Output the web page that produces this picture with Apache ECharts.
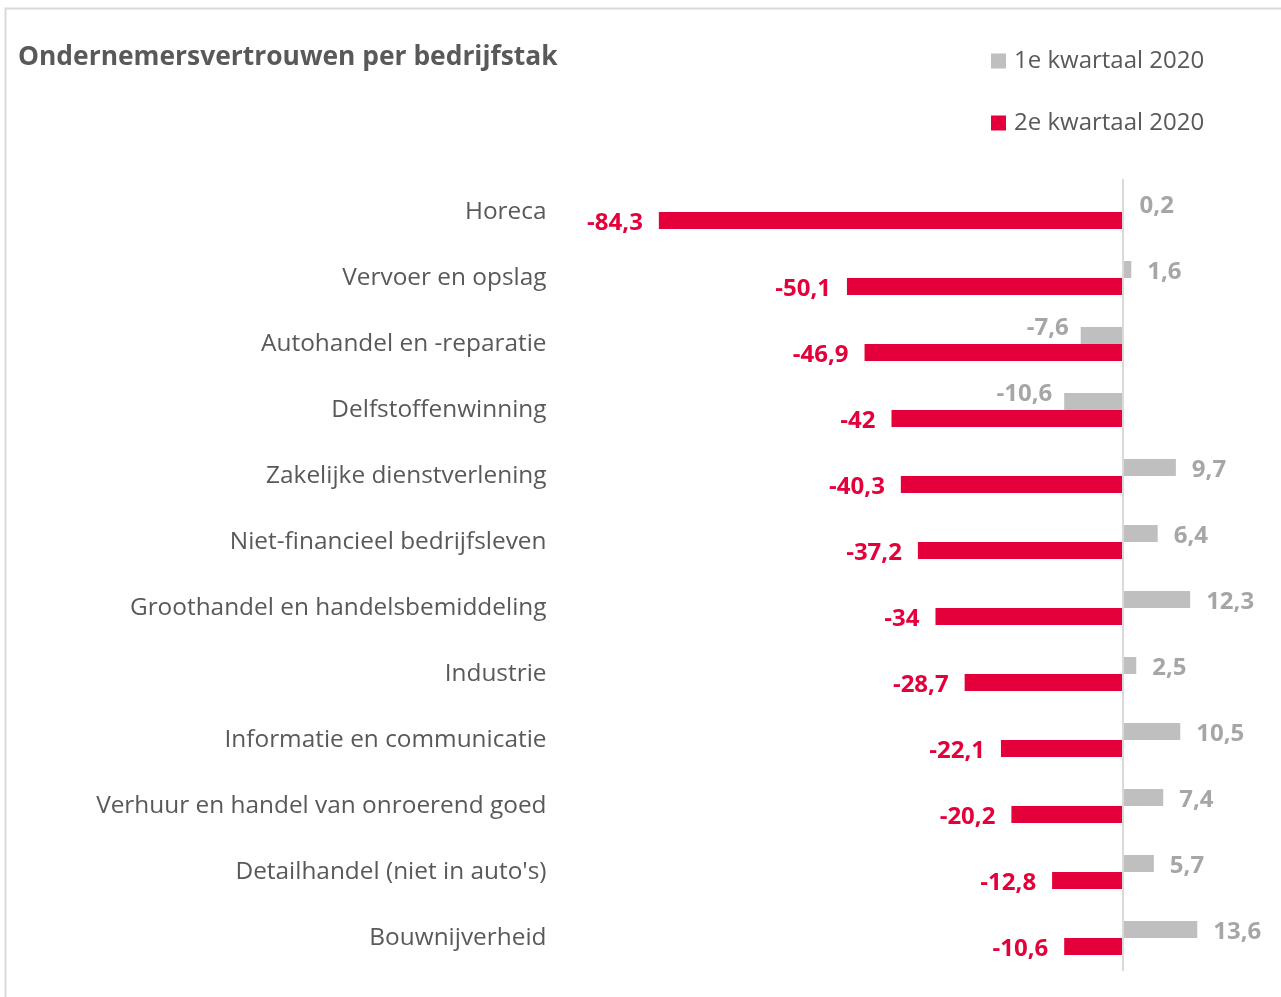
<!DOCTYPE html>
<html>
<head>
<meta charset="utf-8">
<title>Ondernemersvertrouwen per bedrijfstak</title>
<script src="https://cdn.jsdelivr.net/npm/echarts@6/dist/echarts.min.js"></script>
<style>
  html, body { margin: 0; padding: 0; background: #fff; }
  #chart { width: 1281px; height: 997px; }
</style>
</head>
<body>
<div id="chart"></div>
<script>
// bedrijfstakken, van boven naar beneden
const categories = [
  "Horeca",
  "Vervoer en opslag",
  "Autohandel en -reparatie",
  "Delfstoffenwinning",
  "Zakelijke dienstverlening",
  "Niet-financieel bedrijfsleven",
  "Groothandel en handelsbemiddeling",
  "Industrie",
  "Informatie en communicatie",
  "Verhuur en handel van onroerend goed",
  "Detailhandel (niet in auto's)",
  "Bouwnijverheid"
];
const seriesNames = ["1e kwartaal 2020", "2e kwartaal 2020"];
const q1 = [0.2, 1.6, -7.6, -10.6, 9.7, 6.4, 12.3, 2.5, 10.5, 7.4, 5.7, 13.6];
const q2 = [-84.3, -50.1, -46.9, -42, -40.3, -37.2, -34, -28.7, -22.1, -20.2, -12.8, -10.6];

const GREY = "#bfbfbf";
const RED = "#e4003a";
const TEXT = "#595959";
const FONT = "'Open Sans', 'Noto Sans', sans-serif";

function fmt(v) {
  return String(v).replace(".", ",");
}

const labelBase = {
  show: true,
  fontFamily: FONT,
  fontSize: 24,
  fontWeight: "bold",
  formatter: p => fmt(p.value)
};

// grijze labels: rechts bij positief, links en iets hoger bij negatief
const q1Data = q1.map(v => ({
  value: v,
  label: v < 0
    ? { position: "left", distance: 12, offset: [0, -7] }
    : { position: "right", distance: 16, offset: [0, 3] }
}));

const chart = echarts.init(document.getElementById("chart"));
chart.setOption({
  backgroundColor: "#fff",
  animation: false,
  graphic: [{
    type: "rect",
    shape: { x: 5.5, y: 8.5, width: 1320, height: 1020 },
    style: { fill: "none", stroke: "#d9d9d9", lineWidth: 2 },
    silent: true
  }],
  title: {
    text: "Ondernemersvertrouwen per bedrijfstak",
    left: 13,
    top: 39,
    textStyle: { fontFamily: FONT, fontSize: 26.4, fontWeight: "bold", color: TEXT }
  },
  legend: {
    data: seriesNames,
    orient: "vertical",
    left: 986,
    top: 43,
    itemWidth: 15,
    itemHeight: 15,
    itemGap: 36,
    icon: "rect",
    textStyle: { fontFamily: FONT, fontSize: 24, color: TEXT, lineHeight: 26, padding: [0, 0, 0, 3] }
  },
  grid: {
    left: 572.5,
    right: 21,
    top: 179,
    bottom: 26,
    containLabel: false
  },
  xAxis: {
    type: "value",
    min: -100,
    max: 25,
    show: false
  },
  yAxis: {
    type: "category",
    data: categories,
    inverse: true,
    axisLine: { show: false },
    axisTick: { show: false },
    axisLabel: { margin: 26, fontFamily: FONT, fontSize: 24.4, color: TEXT }
  },
  series: [
    {
      name: seriesNames[0],
      type: "bar",
      data: q1Data,
      barWidth: 17,
      barGap: "0%",
      itemStyle: { color: GREY },
      label: Object.assign({}, labelBase, { color: "#a6a6a6" }),
      markLine: {
        silent: true,
        symbol: "none",
        label: { show: false },
        lineStyle: { color: "#d9d9d9", width: 2, type: "solid" },
        data: [{ xAxis: 0 }]
      },
      z: 2
    },
    {
      name: seriesNames[1],
      type: "bar",
      data: q2,
      barWidth: 17,
      barGap: "0%",
      itemStyle: { color: RED },
      label: Object.assign({}, labelBase, {
        color: RED,
        position: "left",
        distance: 16,
        offset: [0, 3]
      }),
      z: 2
    }
  ]
});
</script>
</body>
</html>
